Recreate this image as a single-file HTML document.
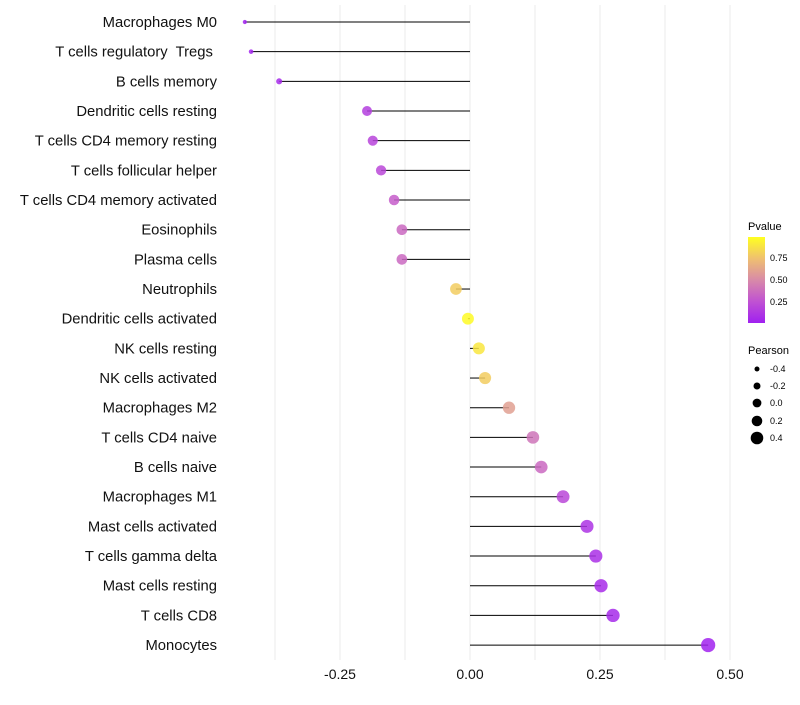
<!DOCTYPE html>
<html><head><meta charset="utf-8"><style>
body{margin:0;background:#fff;font-family:"Liberation Sans",sans-serif}
text{white-space:pre}
</style></head><body>
<svg id="chart" width="800" height="700" xmlns="http://www.w3.org/2000/svg" font-family="Liberation Sans, sans-serif">
<defs><linearGradient id="pg" x1="0" y1="1" x2="0" y2="0">
<stop offset="0" stop-color="#a020f0"/><stop offset="0.25" stop-color="#c052d2"/><stop offset="0.5" stop-color="#d88aa8"/><stop offset="0.75" stop-color="#efc070"/><stop offset="1" stop-color="#ffff20"/></linearGradient></defs>
<g id="grid"></g><g id="marks"></g><g id="labels"></g><g id="ticks"></g>
<g>
<text x="748" y="230" font-size="11">Pvalue</text>
<rect x="748" y="237" width="17" height="86" fill="url(#pg)"/>
<text x="770" y="261" font-size="9">0.75</text><text x="770" y="283" font-size="9">0.50</text><text x="770" y="305" font-size="9">0.25</text>
</g>
<g>
<text x="748" y="354" font-size="11">Pearson</text>
<circle cx="757" cy="369" r="2.5"/><text x="770" y="372" font-size="9">-0.4</text>
<circle cx="757" cy="386" r="3.5"/><text x="770" y="389" font-size="9">-0.2</text>
<circle cx="757" cy="403" r="4.4"/><text x="770" y="406" font-size="9">0.0</text>
<circle cx="757" cy="421" r="5.3"/><text x="770" y="424" font-size="9">0.2</text>
<circle cx="757" cy="438" r="6.3"/><text x="770" y="441" font-size="9">0.4</text>
</g>
</svg>
<script>
const categories=["Macrophages M0","T cells regulatory  Tregs ","B cells memory","Dendritic cells resting","T cells CD4 memory resting","T cells follicular helper","T cells CD4 memory activated","Eosinophils","Plasma cells","Neutrophils","Dendritic cells activated","NK cells resting","NK cells activated","Macrophages M2","T cells CD4 naive","B cells naive","Macrophages M1","Mast cells activated","T cells gamma delta","Mast cells resting","T cells CD8","Monocytes"];
const pearson=[-0.433,-0.421,-0.367,-0.198,-0.187,-0.171,-0.146,-0.131,-0.131,-0.027,-0.004,0.017,0.029,0.075,0.121,0.137,0.179,0.225,0.242,0.252,0.275,0.458];
const pvalues=[0.01,0.02,0.05,0.15,0.18,0.2,0.3,0.35,0.35,0.8,0.98,0.9,0.8,0.6,0.4,0.35,0.2,0.1,0.08,0.06,0.05,0.01];
const tickValues=[-0.25,0,0.25,0.5];
const tickLabels=["-0.25","0.00","0.25","0.50"];
const gridValues=[-0.375,-0.25,-0.125,0,0.125,0.25,0.375,0.5];
const xs=v=>470+v*520;
const ys=i=>22+i*29.67;
const kv=[-0.45,-0.42,-0.37,-0.2,0,0.5], kr=[1.8,2.3,3,5,6,7.2];
function rs(v){if(v<=kv[0])return kr[0];for(let k=0;k<kv.length-1;k++){if(v<=kv[k+1]){const t=(v-kv[k])/(kv[k+1]-kv[k]);return kr[k]+(kr[k+1]-kr[k])*t;}}return kr[kr.length-1];}
const stops=[[0,[160,32,240]],[0.25,[192,82,210]],[0.5,[216,138,168]],[0.75,[239,192,112]],[1,[255,255,32]]];
function col(p){for(let k=0;k<stops.length-1;k++){const a=stops[k],b=stops[k+1];if(p<=b[0]){const t=(p-a[0])/(b[0]-a[0]);return 'rgb('+a[1].map((c,j)=>Math.round(c+(b[1][j]-c)*t)).join(',')+')';}}return 'rgb(255,255,32)';}
const NS="http://www.w3.org/2000/svg";
function mk(t,a,p){const e=document.createElementNS(NS,t);for(const k in a)e.setAttribute(k,a[k]);p.appendChild(e);return e;}
const G=document.getElementById('grid'),M=document.getElementById('marks'),L=document.getElementById('labels'),T=document.getElementById('ticks');
gridValues.forEach(v=>{const l=mk('line',{x1:xs(v),x2:xs(v),y1:5,y2:660,stroke:'#ebebeb','stroke-width':1},G);

});
categories.forEach((c,i)=>{const y=ys(i);
const s=mk('line',{x1:xs(0),x2:xs(pearson[i]),y1:y,y2:y,stroke:'#000','stroke-width':1},M);


const d=mk('circle',{cx:xs(pearson[i]),cy:y,r:rs(pearson[i]),fill:col(pvalues[i]),'fill-opacity':0.85},M);


const t=mk('text',{x:217,y:y+5,'text-anchor':'end','font-size':14.8,fill:'#111'},L);t.textContent=c;

});
tickValues.forEach((v,i)=>{const t=mk('text',{x:xs(v),y:679,'text-anchor':'middle','font-size':14,fill:'#111'},T);t.textContent=tickLabels[i];

});
</script>
</body></html>
